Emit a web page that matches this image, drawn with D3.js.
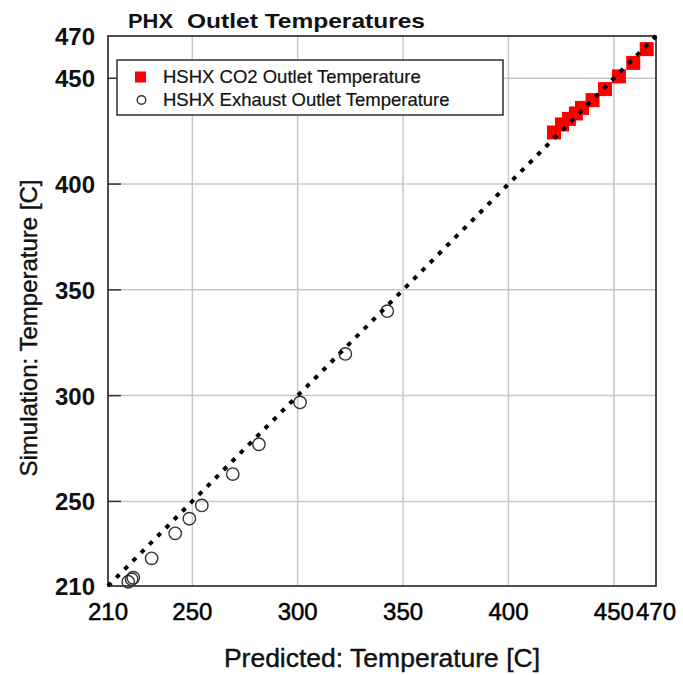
<!DOCTYPE html>
<html>
<head>
<meta charset="utf-8">
<script src="https://cdn.jsdelivr.net/npm/d3@7"></script>
<style>
  html, body { margin: 0; padding: 0; background: #fff; }
  svg { display: block; font-family: "Liberation Sans", Arial, sans-serif; }
</style>
</head>
<body>
<svg id="chart" width="683" height="675"></svg>
<script>
// ---- data ----
const xTicks = [210, 250, 300, 350, 400, 450, 470];
const yTicks = [210, 250, 300, 350, 400, 450, 470];
const gridValues = [250, 300, 350, 400, 450];

const co2Predicted  = [421.6, 425.4, 428.7, 432.0, 434.9, 439.9, 445.8, 452.4, 459.2, 465.6];
const co2Simulated  = [424.4, 428.2, 430.8, 433.4, 436.0, 439.7, 444.9, 450.9, 457.3, 463.8];
const exhPredicted  = [219.6, 221.2, 222.0, 230.7, 241.9, 248.6, 254.5, 269.2, 281.6, 301.1, 322.6, 342.5];
const exhSimulated  = [212.0, 213.2, 213.9, 223.1, 234.9, 241.8, 248.1, 262.9, 277.0, 296.8, 319.7, 339.9];
const parityLine    = [[210, 210], [470, 470]];

const titleParts = ["PHX", "Outlet Temperatures"];
const legendLabels = ["HSHX CO2 Outlet Temperature", "HSHX Exhaust Outlet Temperature"];
const xTitle = "Predicted: Temperature [C]";
const yTitle = "Simulation: Temperature [C]";

// ---- layout ----
const svg = d3.select("#chart");
const x = d3.scaleLinear().domain([210, 470]).range([108, 656]);
const y = d3.scaleLinear().domain([210, 470]).range([586, 36]);

// gridlines
const grid = svg.append("g").attr("stroke", "#c8c8c8").attr("stroke-width", 1.5);
grid.selectAll("line.v").data(gridValues).join("line")
  .attr("x1", d => x(d)).attr("x2", d => x(d))
  .attr("y1", y(210)).attr("y2", y(470));
grid.selectAll("line.h").data(gridValues).join("line")
  .attr("class", "h")
  .attr("y1", d => y(d)).attr("y2", d => y(d))
  .attr("x1", x(210)).attr("x2", x(470));

// inner y ticks (dark)
svg.append("g").selectAll("line").data(gridValues).join("line")
  .attr("x1", x(210)).attr("x2", x(210) + 13)
  .attr("y1", d => y(d)).attr("y2", d => y(d))
  .attr("stroke", "#333").attr("stroke-width", 1.5);

// frame
svg.append("rect")
  .attr("x", x(210)).attr("y", y(470))
  .attr("width", x(470) - x(210)).attr("height", y(210) - y(470))
  .attr("fill", "none").attr("stroke", "#222").attr("stroke-width", 1.6);

// x tick labels
svg.append("g").selectAll("text").data(xTicks).join("text")
  .attr("x", d => x(d)).attr("y", 620)
  .attr("text-anchor", "middle")
  .attr("font-size", 24).attr("fill", "#000")
  .attr("stroke", "#000").attr("stroke-width", 0.5)
  .text(d => d);

// y tick labels
svg.append("g").selectAll("text").data(yTicks).join("text")
  .attr("x", 95).attr("y", d => y(d) + 9)
  .attr("text-anchor", "end")
  .attr("font-size", 24).attr("font-weight", "bold").attr("fill", "#111")
  .text(d => d);

// exhaust circles
svg.append("g").selectAll("circle").data(exhPredicted).join("circle")
  .attr("cx", (d, i) => x(d)).attr("cy", (d, i) => y(exhSimulated[i]))
  .attr("r", 6.2)
  .attr("fill", "none").attr("stroke", "#333").attr("stroke-width", 1.4);

// CO2 squares
const sq = 14;
svg.append("g").selectAll("rect").data(co2Predicted).join("rect")
  .attr("x", (d, i) => x(d) - sq / 2).attr("y", (d, i) => y(co2Simulated[i]) - sq / 2)
  .attr("width", sq).attr("height", sq)
  .attr("fill", "#ff0000");

// parity dotted line
svg.append("path")
  .datum(parityLine)
  .attr("d", d3.line().x(d => x(d[0])).y(d => y(d[1])))
  .attr("fill", "none").attr("stroke", "#000")
  .attr("stroke-width", 4).attr("stroke-dasharray", "4.5,7.2");

// legend
const lg = svg.append("g");
lg.append("rect").attr("x", 117).attr("y", 60).attr("width", 386).attr("height", 55)
  .attr("fill", "#fff").attr("stroke", "#222").attr("stroke-width", 1.4);
lg.append("rect").attr("x", 135).attr("y", 71.5).attr("width", 11).attr("height", 11).attr("fill", "#ff0000");
lg.append("circle").attr("cx", 141.5).attr("cy", 100).attr("r", 4.3)
  .attr("fill", "none").attr("stroke", "#333").attr("stroke-width", 1.4);
lg.selectAll("text").data(legendLabels).join("text")
  .attr("x", 163).attr("y", (d, i) => 83 + i * 22.5)
  .attr("font-size", 18.5).attr("fill", "#111")
  .attr("stroke", "#111").attr("stroke-width", 0.2)
  .text(d => d);

// title
svg.append("text").attr("x", 128).attr("y", 28)
  .attr("font-size", 21).attr("font-weight", "bold").attr("fill", "#111")
  .attr("textLength", 45).attr("lengthAdjust", "spacingAndGlyphs")
  .text(titleParts[0]);
svg.append("text").attr("x", 187).attr("y", 28)
  .attr("font-size", 21).attr("font-weight", "bold").attr("fill", "#111")
  .attr("textLength", 238).attr("lengthAdjust", "spacingAndGlyphs")
  .text(titleParts[1]);

// axis titles
svg.append("text").attr("x", (x(210) + x(470)) / 2).attr("y", 667)
  .attr("text-anchor", "middle").attr("font-size", 26.5).attr("fill", "#111")
  .attr("stroke", "#111").attr("stroke-width", 0.4)
  .text(xTitle);
svg.append("text")
  .attr("transform", `translate(37, 328) rotate(-90)`)
  .attr("text-anchor", "middle").attr("font-size", 24).attr("fill", "#111")
  .attr("stroke", "#111").attr("stroke-width", 0.4)
  .text(yTitle);
</script>
</body>
</html>
